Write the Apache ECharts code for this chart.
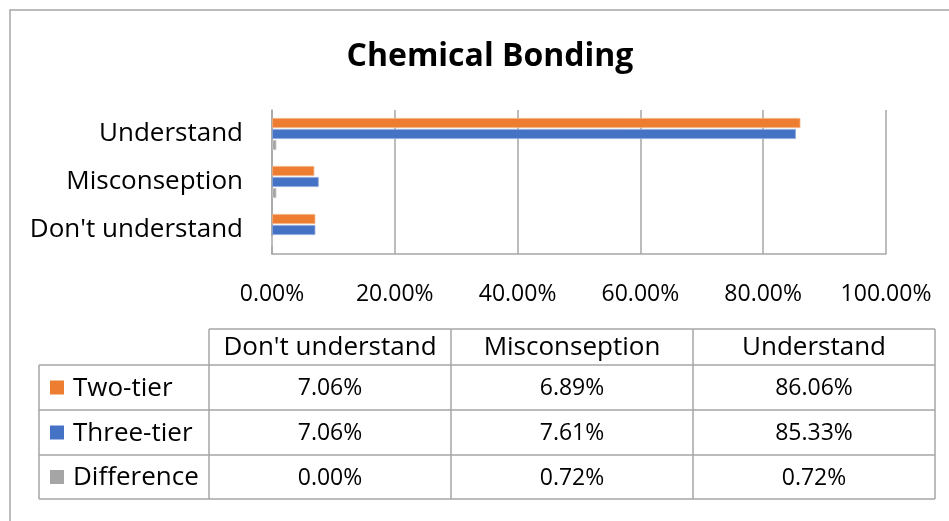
<!DOCTYPE html>
<html>
<head>
<meta charset="utf-8">
<title>Chemical Bonding</title>
<script src="https://cdn.jsdelivr.net/npm/echarts@6/dist/echarts.min.js"></script>
<style>
  html, body { margin: 0; padding: 0; background: #ffffff; }
  #chart { width: 949px; height: 521px; }
</style>
</head>
<body>
<div id="chart"></div>
<script>
// Response categories (bottom to top on the category axis)
const categories = ["Don't understand", 'Misconseption', 'Understand'];
// Test variants
const seriesNames = ['Two-tier', 'Three-tier', 'Difference'];
// Percentages per category
const twoTier = [7.06, 6.89, 86.06];
const threeTier = [7.06, 7.61, 85.33];
const difference = [0.00, 0.72, 0.72];
// Value axis range
const axisMin = 0;
const axisMax = 100;
const axisStep = 20;

const seriesValues = [twoTier, threeTier, difference];
const colors = ['#ED7D31', '#4472C4', '#A5A5A5'];
const borderColors = ['#F4B183', '#8FAADC', '#C9C9C9'];
const FONT = '"Open Sans", Lato, sans-serif';
const GRID_LINE = '#A6A6A6';
const TEXT = '#000000';
const WORD_SIZE = 26;
const NUM_SIZE = 23;

const fmt = v => v.toFixed(2) + '%';

// Data table below the chart
const tbl = {
  legendLeft: 39,
  colX: [209, 451, 693, 935],
  rowY: [329, 365, 410, 455, 499]
};

function buildTable() {
  const els = [];
  const line = (x1, y1, x2, y2) => ({
    type: 'line',
    shape: { x1, y1, x2, y2 },
    style: { stroke: GRID_LINE, lineWidth: 1.5 },
    silent: true
  });
  const [hTop, hBot] = [tbl.rowY[0], tbl.rowY[1]];
  const last = tbl.rowY[tbl.rowY.length - 1];
  const right = tbl.colX[tbl.colX.length - 1];
  // header box
  els.push(line(tbl.colX[0], hTop, right, hTop));
  // horizontal row lines
  for (let i = 1; i < tbl.rowY.length; i++) {
    els.push(line(tbl.legendLeft, tbl.rowY[i], right, tbl.rowY[i]));
  }
  // vertical lines
  els.push(line(tbl.legendLeft, hBot, tbl.legendLeft, last));
  tbl.colX.forEach(x => els.push(line(x, hTop, x, last)));

  // header texts
  categories.forEach((c, j) => {
    els.push({
      type: 'text',
      x: (tbl.colX[j] + tbl.colX[j + 1]) / 2,
      y: (hTop + hBot) / 2 + 1,
      style: { text: c, fill: TEXT, font: WORD_SIZE + 'px ' + FONT, align: 'center', verticalAlign: 'middle' },
      silent: true
    });
  });
  // legend keys, series names and values
  seriesNames.forEach((name, i) => {
    const cy = (tbl.rowY[i + 1] + tbl.rowY[i + 2]) / 2;
    els.push({
      type: 'rect',
      shape: { x: 50, y: cy - 7, width: 14, height: 14 },
      style: { fill: colors[i] },
      silent: true
    });
    els.push({
      type: 'text',
      x: 73, y: cy + 1,
      style: { text: name, fill: TEXT, font: WORD_SIZE + 'px ' + FONT, align: 'left', verticalAlign: 'middle' },
      silent: true
    });
    seriesValues[i].forEach((v, j) => {
      els.push({
        type: 'text',
        x: (tbl.colX[j] + tbl.colX[j + 1]) / 2,
        y: cy + 1,
        style: { text: fmt(v), fill: TEXT, font: NUM_SIZE + 'px ' + FONT, align: 'center', verticalAlign: 'middle' },
        silent: true
      });
    });
  });
  // outer chart frame
  els.push({
    type: 'rect',
    shape: { x: 10, y: 10, width: 1000, height: 600 },
    style: { fill: null, stroke: '#A6A6A6', lineWidth: 1.5 },
    silent: true,
    z: -1
  });
  return els;
}

const chart = echarts.init(document.getElementById('chart'), null, { renderer: 'canvas' });

chart.setOption({
  backgroundColor: '#ffffff',
  animation: false,
  title: {
    text: 'Chemical Bonding',
    left: 485,
    top: 36,
    textAlign: 'center',
    textStyle: { fontFamily: FONT, fontSize: 32, fontWeight: 'bold', color: TEXT }
  },
  grid: { left: 272, top: 110, width: 614, height: 144, containLabel: false },
  xAxis: {
    type: 'value',
    min: axisMin,
    max: axisMax,
    interval: axisStep,
    axisLine: { show: true, lineStyle: { color: GRID_LINE, width: 1.5 } },
    axisTick: { show: false },
    splitLine: { show: true, lineStyle: { color: GRID_LINE, width: 1.5 } },
    axisLabel: {
      margin: 29,
      color: TEXT,
      fontFamily: FONT,
      fontSize: NUM_SIZE,
      formatter: v => fmt(v)
    }
  },
  yAxis: {
    type: 'category',
    data: categories,
    axisLine: { show: true, lineStyle: { color: GRID_LINE, width: 1.5 } },
    axisTick: { show: false },
    splitLine: { show: false },
    axisLabel: { margin: 29, padding: [5, 0, 0, 0], color: TEXT, fontFamily: FONT, fontSize: WORD_SIZE }
  },
  series: seriesNames.map((name, i) => ({
    name,
    type: 'bar',
    data: seriesValues[i],
    barWidth: 10,
    barGap: '10%',
    itemStyle: { color: colors[i], borderColor: borderColors[i], borderWidth: 0.8 }
  })),
  graphic: buildTable()
});
</script>
</body>
</html>
